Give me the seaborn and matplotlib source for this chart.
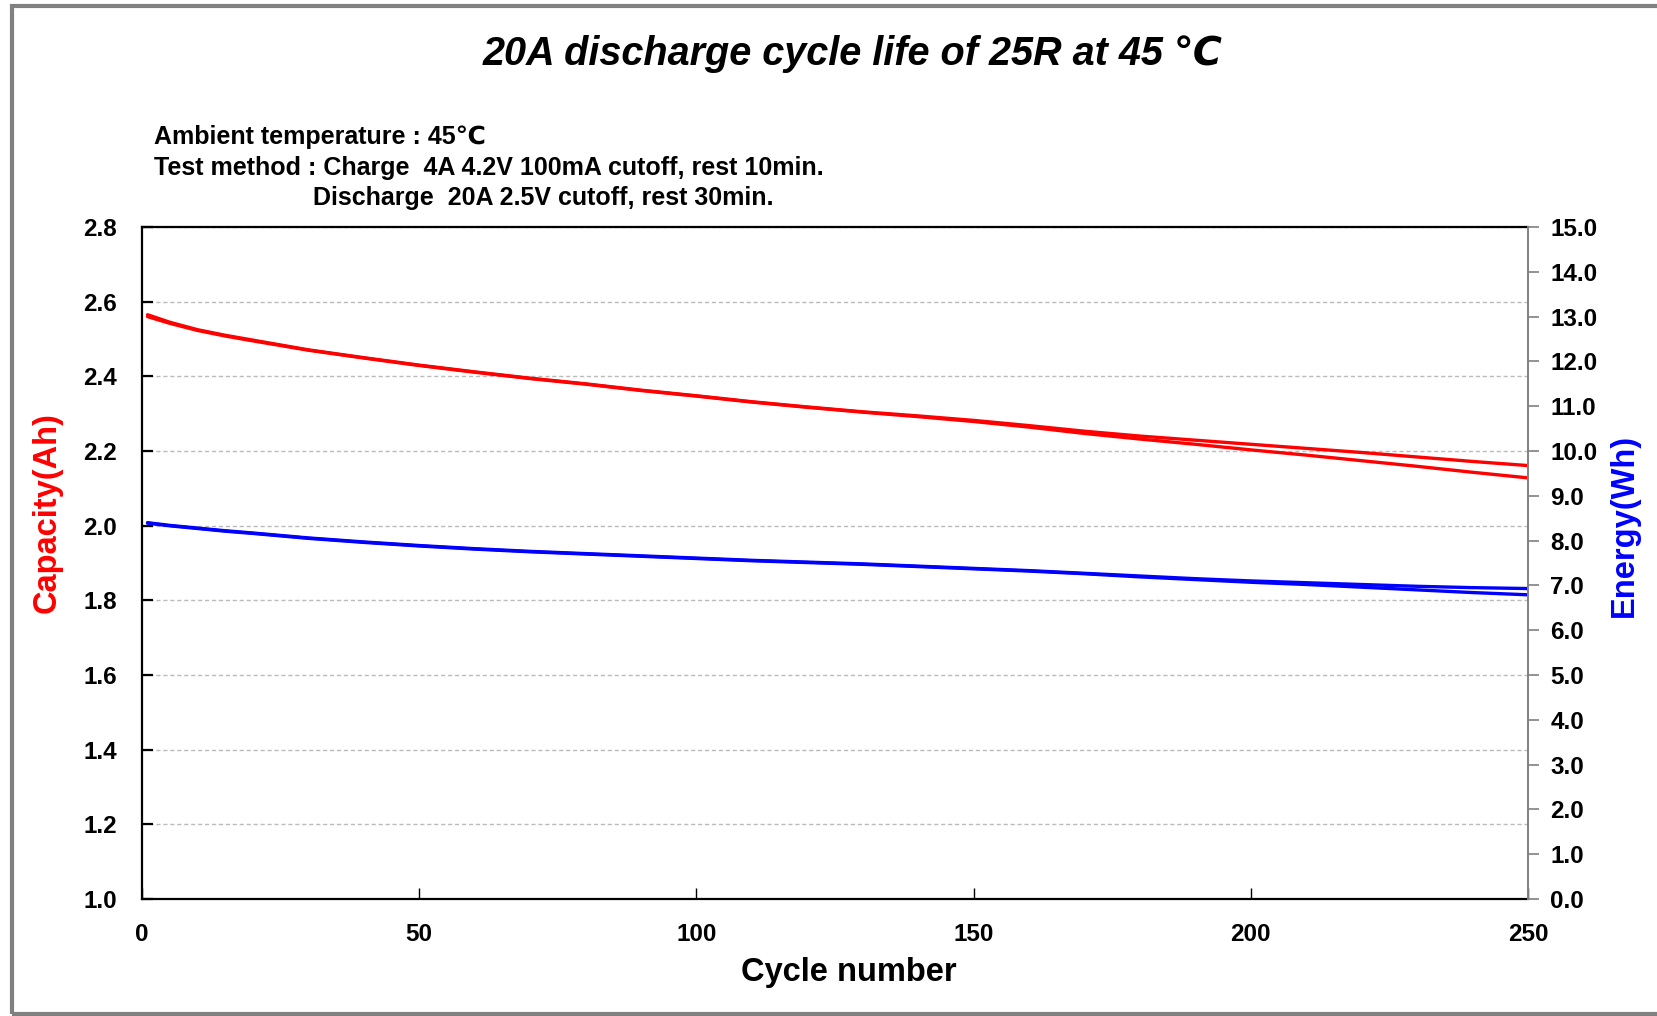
import matplotlib
matplotlib.use("Agg")
import matplotlib.pyplot as plt
import seaborn as sns
import pandas as pd
import numpy as np
from matplotlib.patches import Rectangle

sns.set_theme(style="white")
plt.rcParams['font.family'] = ['Liberation Sans', 'DejaVu Sans']
plt.rcParams['text.color'] = 'black'
plt.rcParams['xtick.color'] = 'black'
plt.rcParams['ytick.color'] = 'black'

# ---- data ----
cycles = [1, 5, 10, 15, 20, 30, 40, 50, 60, 70, 80, 90, 100, 110, 120, 130,
          140, 150, 160, 170, 180, 190, 200, 210, 220, 230, 240, 250]
capacity_cell1 = [2.565, 2.545, 2.525, 2.510, 2.497, 2.471, 2.450, 2.430, 2.412, 2.395,
                  2.380, 2.363, 2.348, 2.332, 2.318, 2.305, 2.294, 2.282, 2.268, 2.253,
                  2.240, 2.229, 2.218, 2.207, 2.196, 2.184, 2.172, 2.161]
capacity_cell2 = [2.560, 2.542, 2.523, 2.508, 2.495, 2.470, 2.449, 2.429, 2.411, 2.394,
                  2.379, 2.362, 2.347, 2.331, 2.317, 2.304, 2.292, 2.279, 2.264, 2.247,
                  2.232, 2.218, 2.203, 2.189, 2.174, 2.159, 2.143, 2.128]
energy_cell1 = [8.40, 8.34, 8.28, 8.22, 8.17, 8.06, 7.97, 7.89, 7.82, 7.76,
                7.71, 7.66, 7.61, 7.56, 7.52, 7.48, 7.43, 7.38, 7.33, 7.27,
                7.21, 7.15, 7.10, 7.06, 7.02, 6.98, 6.95, 6.93]
energy_cell2 = [8.39, 8.33, 8.27, 8.21, 8.16, 8.05, 7.96, 7.88, 7.81, 7.75,
                7.70, 7.65, 7.60, 7.55, 7.51, 7.47, 7.42, 7.37, 7.32, 7.26,
                7.19, 7.13, 7.07, 7.02, 6.96, 6.90, 6.84, 6.79]

left_ticks = [1.0, 1.2, 1.4, 1.6, 1.8, 2.0, 2.2, 2.4, 2.6, 2.8]
right_ticks = [0.0, 1.0, 2.0, 3.0, 4.0, 5.0, 6.0, 7.0, 8.0, 9.0, 10.0, 11.0, 12.0, 13.0, 14.0, 15.0]
x_ticks = [0, 50, 100, 150, 200, 250]

title = "20A discharge cycle life of 25R at 45 \u2103"
note1 = "Ambient temperature : 45\u2103"
note2 = "Test method : Charge  4A 4.2V 100mA cutoff, rest 10min."
note3 = "Discharge  20A 2.5V cutoff, rest 30min."

df = pd.DataFrame({"cycle": cycles, "cap1": capacity_cell1, "cap2": capacity_cell2,
                   "en1": energy_cell1, "en2": energy_cell2})

W, H = 1657, 1016
fig = plt.figure(figsize=(W / 100, H / 100), dpi=100)
fig.patch.set_facecolor("white")

ax = fig.add_axes([142 / W, 1 - 899 / H, (1528 - 142) / W, (899 - 227) / H])
ax2 = ax.twinx()

sns.lineplot(data=df, x="cycle", y="cap1", ax=ax, color="#FF0000", lw=2.4)
sns.lineplot(data=df, x="cycle", y="cap2", ax=ax, color="#FF0000", lw=2.4)
sns.lineplot(data=df, x="cycle", y="en1", ax=ax2, color="#0000FF", lw=2.4)
sns.lineplot(data=df, x="cycle", y="en2", ax=ax2, color="#0000FF", lw=2.4)

ax.set_xlim(0, 250)
ax.set_ylim(1.0, 2.8)
ax2.set_ylim(0, 15)
ax.set_xticks(x_ticks)
ax.set_yticks(left_ticks)
ax2.set_yticks(right_ticks)
ax.set_yticklabels([f"{v:.1f}" for v in left_ticks])
ax2.set_yticklabels([f"{v:.1f}" for v in right_ticks])
ax.set_xticklabels([str(v) for v in x_ticks])

ax.grid(False)
ax2.grid(False)
ax.yaxis.grid(True, linestyle=(0, (3, 2)), color="#BBBBBB", lw=1.0)
ax.set_axisbelow(True)

for s in ["left", "top", "bottom"]:
    ax.spines[s].set_color("black")
    ax.spines[s].set_linewidth(1.6)
ax.spines["right"].set_visible(False)
for s in ["left", "top", "bottom"]:
    ax2.spines[s].set_visible(False)
ax2.spines["right"].set_visible(True)
ax2.spines["right"].set_color("#808080")
ax2.spines["right"].set_linewidth(1.4)

ax.tick_params(axis="y", direction="in", length=8, width=1.6, color="black", pad=18,
               labelsize=17.5, left=True, right=False, labelcolor="black")
ax.tick_params(axis="x", direction="in", length=8, width=1.0, color="black", pad=17,
               labelsize=17.5, bottom=True, labelcolor="black")
ax2.tick_params(axis="y", direction="out", length=8, width=1.2, color="#808080", pad=8,
                labelsize=17.5, right=True, labelcolor="black")
for lab in ax.get_yticklabels() + ax.get_xticklabels() + ax2.get_yticklabels():
    lab.set_fontweight("bold")

ax.set_xlabel("")
ax.set_ylabel("")
ax2.set_ylabel("")

fig.text(47 / W, 1 - 513 / H, "Capacity(Ah)", color="#FF0000", fontsize=23.5, fontweight="bold",
         rotation=90, ha="center", va="center")
fig.text(1624 / W, 1 - 525 / H, "Energy(Wh)", color="#0000FF", fontsize=23.5, fontweight="bold",
         rotation=90, ha="center", va="center")
fig.text(849 / W, 1 - 972 / H, "Cycle number", color="black", fontsize=23.5, fontweight="bold",
         ha="center", va="center")

fig.text(853 / W, 1 - 54 / H, title, fontsize=28.5, fontweight="bold", fontstyle="italic",
         color="black", ha="center", va="center")
fig.text(154 / W, 1 - 137 / H, note1, fontsize=18, fontweight="bold", color="black",
         ha="left", va="center")
fig.text(154 / W, 1 - 168 / H, note2, fontsize=18, fontweight="bold", color="black",
         ha="left", va="center")
fig.text(313 / W, 1 - 197.5 / H, note3, fontsize=18, fontweight="bold", color="black",
         ha="left", va="center")

# outer gray frame
fig.patches.append(Rectangle((12 / W, 1 - 1014 / H), 1.2, (1014 - 6) / H, transform=fig.transFigure,
                             fill=False, edgecolor="#808080", lw=3.0, zorder=10))

fig.savefig("out.png", dpi=100, facecolor="white")
